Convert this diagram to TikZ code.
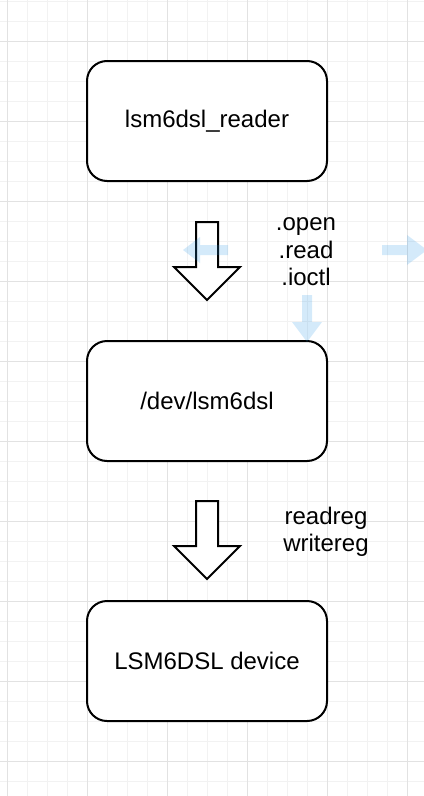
\documentclass[tikz,border=0pt]{standalone}
\usepackage{fontspec}
\setmainfont{Liberation Sans}
\usetikzlibrary{positioning, calc, shapes.arrows}
\definecolor{gridminor}{RGB}{242,242,242}
\definecolor{gridmajor}{RGB}{226,226,226}
\definecolor{hoverblue}{RGB}{41,150,230}
\tikzset{
    layer/.style={draw, line width=1.5pt, rounded corners=15pt, fill=white, outer sep=0pt,
        minimum width=180pt, minimum height=90pt, align=center, font=\fontsize{18}{21}\selectfont},
    bigarrow/.style={single arrow, draw, line width=1.5pt, fill=white, inner sep=7.5pt,
        minimum height=58.5pt, single arrow head extend=16.5pt, single arrow head indent=0pt,
        shape border rotate=270, outer sep=0pt, anchor=tip},
    calls/.style={align=center, font=\fontsize{18}{20.6}\selectfont},
    hover/.style={fill=hoverblue, fill opacity=0.2},
    minorline/.style={draw=gridminor, line width=0.75pt},
    majorline/.style={draw=gridmajor, line width=0.75pt},
}
\begin{document}
\begin{tikzpicture}[x=0.75pt, y=-0.75pt]
    \useasboundingbox (0,0) rectangle (424,796);
    % background grid
    \foreach \gx in {7,27,...,424} \draw[minorline] (\gx,0) -- (\gx,796);
    \foreach \gy in {1,21,...,796} \draw[minorline] (0,\gy) -- (424,\gy);
    \foreach \gx in {7,87,...,424} \draw[majorline] (\gx,0) -- (\gx,796);
    \foreach \gy in {41,121,...,796} \draw[majorline] (0,\gy) -- (424,\gy);

    \node[layer] (reader) at (207,121) {lsm6dsl\_reader};
    \node[layer, below=120pt of reader] (dev) {/dev/lsm6dsl};
    \node[layer, below=105pt of dev] (device) {LSM6DSL device};

    \node[bigarrow] (step1) at ($(dev.north)+(0,-41)$) {};
    \node[bigarrow] (step2) at ($(device.north)+(0,-22)$) {};

    \node[calls] (ops) at (306,252) {.open\\.read\\.ioctl};
    \node[calls] (regs) at (326,532) {readreg\\writereg};

    % faint hover arrows
    \fill[hover] (183,250) -- (200,237) -- (200,245) -- (228,245) -- (228,255)
        -- (200,255) -- (200,263) -- cycle;
    \fill[hover] (382,245) -- (407,245) -- (407,235) -- (427,250) -- (407,265)
        -- (407,255) -- (382,255) -- cycle;
    \fill[hover] (302,295) -- (312,295) -- (312,322) -- (322,322) -- (307,342)
        -- (292,322) -- (302,322) -- cycle;
\end{tikzpicture}
\end{document}
